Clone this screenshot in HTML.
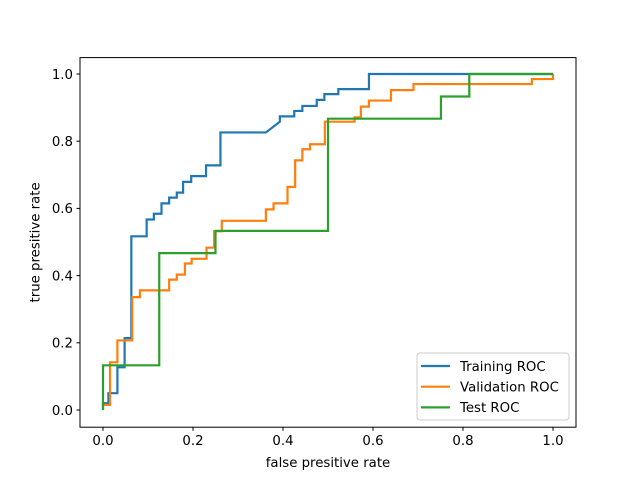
<!DOCTYPE html>
<html><head><meta charset="utf-8"><style>
body{margin:0;background:#fff}
svg{display:block;font-family:"DejaVu Sans","Liberation Sans",sans-serif}
</style></head><body>
<svg width="640" height="480" viewBox="0 0 640 480">
<rect width="640" height="480" fill="#fff"/>
<defs><clipPath id="clip"><rect x="80" y="57.6" width="496" height="369.6"/></clipPath></defs>
<g id="grid"></g>
<g id="series" clip-path="url(#clip)"></g>
<rect x="80" y="57.6" width="496" height="369.6" fill="none" stroke="#000" stroke-width="1"/>
<g id="ticks"></g>
<text x="328" y="467" text-anchor="middle" font-size="13.3">false presitive rate</text>
<text transform="translate(39.5,242.4) rotate(-90)" text-anchor="middle" font-size="13.3">true presitive rate</text>
<g>
<rect x="417" y="353" width="152" height="67" rx="3" fill="#fff" fill-opacity="0.8" stroke="#ccc"/>
<g id="legend-items"></g>
</g>
</svg>
<script>
const names=["Training ROC","Validation ROC","Test ROC"];
const colors=["#1f77b4","#ff7f0e","#2ca02c"];
const trainFpr=[0,0,0.012,0.012,0.032,0.032,0.048,0.048,0.063,0.063,0.097,0.097,0.113,0.113,0.130,0.130,0.147,0.147,0.164,0.164,0.178,0.178,0.196,0.196,0.229,0.229,0.261,0.261,0.362,0.393,0.393,0.425,0.425,0.443,0.443,0.475,0.475,0.492,0.492,0.523,0.523,0.591,0.591,1.0];
const trainTpr=[0,0.02,0.02,0.05,0.05,0.127,0.127,0.214,0.214,0.517,0.517,0.567,0.567,0.584,0.584,0.615,0.615,0.632,0.632,0.647,0.647,0.679,0.679,0.696,0.696,0.728,0.728,0.826,0.826,0.858,0.874,0.874,0.89,0.89,0.905,0.905,0.923,0.923,0.94,0.94,0.955,0.955,1.0,1.0];
const valFpr=[0,0.0156,0.0156,0.032,0.032,0.065,0.065,0.082,0.082,0.147,0.147,0.164,0.164,0.182,0.182,0.197,0.197,0.230,0.230,0.247,0.247,0.264,0.264,0.362,0.362,0.379,0.379,0.41,0.41,0.427,0.427,0.443,0.443,0.46,0.46,0.493,0.493,0.559,0.559,0.573,0.573,0.591,0.591,0.64,0.64,0.69,0.69,0.953,0.953,1.0,1.0];
const valTpr=[0.015,0.015,0.142,0.142,0.207,0.207,0.336,0.336,0.356,0.356,0.388,0.388,0.403,0.403,0.436,0.436,0.45,0.45,0.483,0.483,0.532,0.532,0.563,0.563,0.597,0.597,0.615,0.615,0.664,0.664,0.743,0.743,0.776,0.776,0.791,0.791,0.858,0.858,0.871,0.871,0.903,0.903,0.921,0.921,0.952,0.952,0.97,0.97,0.985,0.985,1.0];
const testFpr=[0,0,0.125,0.125,0.25,0.25,0.5,0.5,0.751,0.751,0.814,0.814,1.0];
const testTpr=[0,0.133,0.133,0.467,0.467,0.533,0.533,0.867,0.867,0.933,0.933,1.0,1.0];
const xTicks=[0,0.2,0.4,0.6,0.8,1.0];
const yTicks=[0,0.2,0.4,0.6,0.8,1.0];
const xTickLabels=["0.0","0.2","0.4","0.6","0.8","1.0"];
const yTickLabels=["0.0","0.2","0.4","0.6","0.8","1.0"];

const NS="http://www.w3.org/2000/svg";
const X=v=>103+v*450, Y=v=>410-v*336;
function mk(t,a,p){const e=document.createElementNS(NS,t);for(const k in a)e.setAttribute(k,a[k]);p.appendChild(e);return e;}
const series=[[trainFpr,trainTpr],[valFpr,valTpr],[testFpr,testTpr]];
const sg=document.getElementById('series');
series.forEach((s,i)=>{
  const d=s[0].map((x,j)=>(j?'L':'M')+X(x).toFixed(2)+','+Y(s[1][j]).toFixed(2)).join('');
  const p=mk('path',{d:d,fill:'none',stroke:colors[i],'stroke-width':2.2,'stroke-linejoin':'miter'},sg);
  
  
});
const tg=document.getElementById('ticks');
xTicks.forEach((v,i)=>{
  const l=mk('line',{x1:X(v),x2:X(v),y1:427.2,y2:430.7,stroke:'#000'},tg);
  
  
  const t=mk('text',{x:X(v),y:445,'text-anchor':'middle','font-size':13.3},tg);
  t.textContent=xTickLabels[i];
  
  
});
yTicks.forEach((v,i)=>{
  const l=mk('line',{x1:76.5,x2:80,y1:Y(v),y2:Y(v),stroke:'#000'},tg);
  
  
  const t=mk('text',{x:73,y:Y(v)+4.8,'text-anchor':'end','font-size':13.3},tg);
  t.textContent=yTickLabels[i];
  
  
});
const lg=document.getElementById('legend-items');
names.forEach((n,i)=>{
  const y=366+i*20.7;
  const l=mk('line',{x1:421,x2:450,y1:y,y2:y,stroke:colors[i],'stroke-width':2.2},lg);
  
  
  const t=mk('text',{x:460,y:y+4.8,'font-size':13.3},lg);
  t.textContent=n;
  
  
});
</script>
</body></html>
